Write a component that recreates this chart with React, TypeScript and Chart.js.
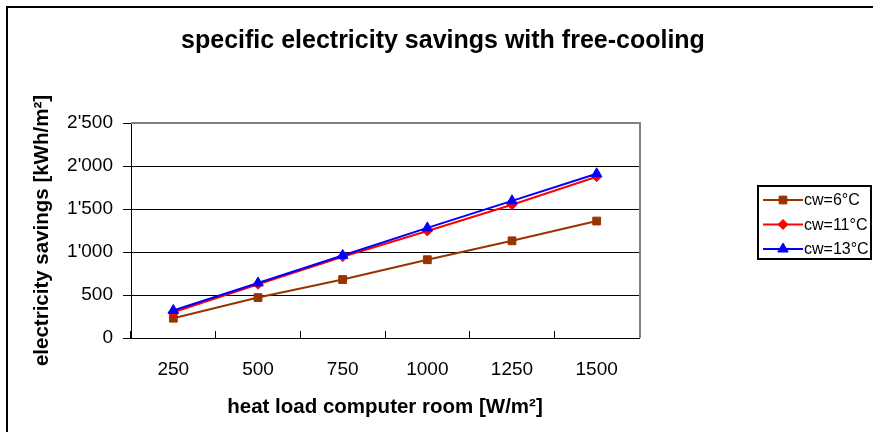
import React, { useEffect, useRef } from 'react';
import { Chart, registerables, layouts } from 'chart.js';
import { drawPoint } from 'chart.js/helpers';

Chart.register(...registerables);

const categories = ['250', '500', '750', '1000', '1250', '1500'];
const cw6 = [230, 470, 680, 910, 1130, 1360];
const cw11 = [300, 625, 945, 1245, 1550, 1875];
const cw13 = [320, 640, 960, 1280, 1595, 1910];
const seriesLabels = ['cw=6°C', 'cw=11°C', 'cw=13°C'];
const yMin = 0;
const yMax = 2500;
const yStep = 500;

const FONT = '"Liberation Sans", Arial, sans-serif';
const W = 873;
const H = 432;

const fmt = (v: number) => {
  if (v >= 1000) {
    const th = Math.floor(v / 1000);
    const rest = String(v % 1000).padStart(3, '0');
    return `${th}'${rest}`;
  }
  return String(v);
};

const rightSpacer = {
  id: 'rightSpacer',
  beforeInit(chart: any) {
    const box: any = {
      position: 'right',
      weight: 100,
      fullSize: false,
      options: {},
      left: 0, top: 0, right: 0, bottom: 0, width: 0, height: 0,
      update(maxWidth: number, maxHeight: number) {
        this.width = 234;
        this.height = maxHeight;
      },
      isHorizontal() { return false; },
      getPadding() { return { left: 0, right: 0, top: 0, bottom: 0 }; },
      draw() {},
    };
    layouts.addBox(chart, box);
  },
};

const decor = {
  id: 'decor',
  beforeDatasetsDraw(chart: any) {
    const { ctx, chartArea } = chart;
    ctx.save();
    ctx.strokeStyle = '#808080';
    ctx.lineWidth = 2;
    ctx.beginPath();
    ctx.moveTo(chartArea.left, chartArea.top);
    ctx.lineTo(chartArea.right + 1, chartArea.top);
    ctx.lineTo(chartArea.right + 1, chartArea.bottom);
    ctx.stroke();
    ctx.restore();
  },
  afterDraw(chart: any) {
    const { ctx } = chart;
    ctx.save();
    // outer frame
    ctx.strokeStyle = '#000';
    ctx.lineWidth = 2;
    ctx.strokeRect(7, 7, W + 20, H + 20);
    // legend
    const lx = 758, ly = 186, lw = 113, lh = 73;
    ctx.lineWidth = 2;
    ctx.strokeRect(lx, ly, lw, lh);
    chart.data.datasets.forEach((ds: any, i: number) => {
      const y = ly + 14 + i * 24.5;
      ctx.strokeStyle = ds.borderColor;
      ctx.lineWidth = 2;
      ctx.beginPath();
      ctx.moveTo(lx + 5, y);
      ctx.lineTo(lx + 45, y);
      ctx.stroke();
      ctx.fillStyle = ds.pointBackgroundColor;
      ctx.strokeStyle = ds.pointBorderColor;
      ctx.lineWidth = 1;
      drawPoint(ctx, { pointStyle: ds.pointStyle, radius: ds.pointRadius, borderWidth: 1, rotation: 0 }, lx + 25, y);
      ctx.fillStyle = '#000';
      ctx.font = `16px ${FONT}`;
      ctx.textAlign = 'left';
      ctx.textBaseline = 'middle';
      ctx.fillText(ds.label, lx + 46, y + 1);
    });
    ctx.restore();
  },
};

export default function App() {
  const ref = useRef<HTMLCanvasElement | null>(null);
  useEffect(() => {
    if (!ref.current) return;
    const mk = (label: string, data: number[], color: string, style: string, radius: number, order: number) => ({
      label,
      data,
      borderColor: color,
      backgroundColor: color,
      pointBackgroundColor: color,
      pointBorderColor: color,
      pointStyle: style,
      pointRadius: radius,
      pointBorderWidth: 1,
      borderWidth: 2,
      tension: 0,
      order,
    });
    const chart = new Chart(ref.current, {
      type: 'line',
      data: {
        labels: categories,
        datasets: [
          mk(seriesLabels[0], cw6, '#993300', 'rect', 5.5, 3),
          mk(seriesLabels[1], cw11, '#FF0000', 'rectRot', 5, 2),
          mk(seriesLabels[2], cw13, '#0000FF', 'triangle', 6, 1),
        ],
      },
      options: {
        responsive: false,
        animation: false,
        events: [],
        layout: { padding: { left: 13, right: 0, top: 0, bottom: 0 } },
        plugins: {
          legend: { display: false },
          tooltip: { enabled: false },
          title: {
            display: true,
            text: 'specific electricity savings with free-cooling',
            color: '#000',
            font: { family: FONT, size: 25, weight: 'bold' },
            padding: { top: 26, bottom: 123 - 26 - 30 },
          },
        },
        scales: {
          x: {
            type: 'category',
            offset: true,
            grid: { offset: true, drawOnChartArea: false, tickLength: -7, color: '#000', lineWidth: 1 },
            border: { color: '#000', width: 1 },
            ticks: { color: '#000', font: { family: FONT, size: 19 }, padding: 27, maxRotation: 0, autoSkip: false },
            title: {
              display: true,
              text: 'heat load computer room [W/m²]',
              color: '#000',
              font: { family: FONT, size: 20.5, weight: 'bold' },
              padding: { top: 0, bottom: 12 },
            },
            afterFit: (s: any) => { s.height = 94; },
          },
          y: {
            min: yMin,
            max: yMax,
            grid: {
              color: (c: any) => (c.tick && c.tick.value === yMax ? '#808080' : '#000'),
              tickColor: '#000',
              tickLength: 8,
              lineWidth: 1,
            },
            border: { color: '#000', width: 1 },
            ticks: {
              stepSize: yStep,
              color: '#000',
              font: { family: FONT, size: 19 },
              padding: 10,
              callback: (v: any) => fmt(Number(v)),
            },
            title: {
              display: true,
              text: 'electricity savings [kWh/m²]',
              color: '#000',
              font: { family: FONT, size: 20.5, weight: 'bold' },
              padding: { top: 17, bottom: 0 },
            },
            afterFit: (s: any) => { s.width = 118; },
          },
        },
      },
      plugins: [rightSpacer, decor],
    } as any);
    return () => chart.destroy();
  }, []);
  return (
    <div style={{ position: 'absolute', left: 0, top: 0, width: W, height: H, background: '#fff' }}>
      <canvas ref={ref} width={W} height={H} style={{ display: 'block', width: W, height: H }} />
    </div>
  );
}
